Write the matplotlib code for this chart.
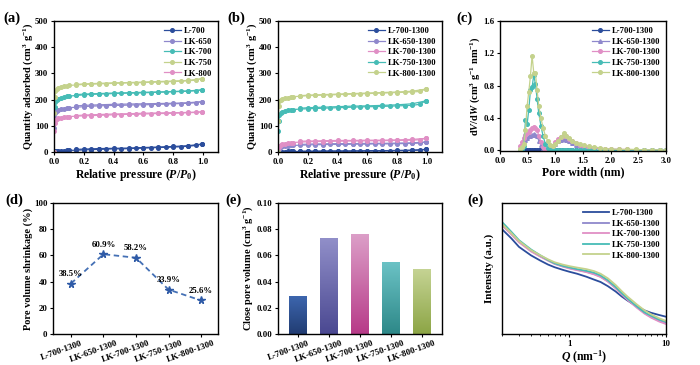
import numpy as np
import matplotlib
matplotlib.use("Agg")
import matplotlib.pyplot as plt
import matplotlib.transforms as mtransforms
from matplotlib.colors import LinearSegmentedColormap

plt.rcParams['font.family'] = ['Liberation Serif', 'DejaVu Serif']
plt.rcParams['font.weight'] = 'bold'
plt.rcParams['axes.labelweight'] = 'bold'
plt.rcParams['axes.linewidth'] = 1.0
plt.rcParams['mathtext.fontset'] = 'custom'
plt.rcParams['mathtext.it'] = 'Liberation Serif:italic:bold'
plt.rcParams['mathtext.rm'] = 'Liberation Serif:bold'
plt.rcParams['mathtext.bf'] = 'Liberation Serif:bold'

# ---------------- data ----------------
# (a) N2 isotherms of precursors
P_ads = [0.0, 0.002, 0.005, 0.01, 0.02, 0.03, 0.05, 0.07, 0.09, 0.1, 0.15, 0.2, 0.25, 0.3,
         0.35, 0.4, 0.45, 0.5, 0.55, 0.6, 0.65, 0.7, 0.75, 0.8, 0.85, 0.9, 0.95, 0.99]
P_des = [0.99, 0.9, 0.8, 0.7, 0.6, 0.5, 0.4, 0.3, 0.25, 0.2, 0.15]

a_labels = ['L-700', 'LK-650', 'LK-700', 'LK-750', 'LK-800']
a_L700_ads = [0, 1, 2, 3, 3, 4, 5, 5, 6, 6, 7, 8, 9, 10, 11, 12, 12, 13, 14, 15, 16, 17, 18, 19, 20, 22, 25, 30]
a_LK650_ads = [0, 90, 130, 150, 157, 160, 164, 166, 168, 169, 171, 173, 175, 176, 177, 178, 178, 179, 180, 180, 181, 182, 183, 184, 185, 186, 188, 192]
a_LK700_ads = [0, 120, 170, 190, 198, 203, 207, 210, 212, 213, 216, 218, 220, 221, 222, 223, 224, 225, 225, 226, 227, 228, 229, 230, 231, 232, 234, 237]
a_LK750_ads = [0, 150, 210, 232, 240, 244, 248, 251, 253, 254, 256, 258, 259, 260, 261, 262, 263, 264, 264, 265, 266, 267, 268, 269, 270, 272, 274, 280]
a_LK800_ads = [0, 80, 110, 122, 126, 128, 131, 133, 134, 135, 137, 138, 139, 140, 141, 142, 143, 144, 144, 145, 146, 147, 147, 148, 149, 150, 151, 153]
a_L700_des = [30, 24, 21, 19, 17, 15, 14, 13, 12, 11, 10]
a_LK650_des = [192, 188, 186, 185, 184, 183, 182, 180, 179, 178, 176]
a_LK700_des = [237, 233, 231, 229, 228, 226, 225, 223, 222, 221, 219]
a_LK750_des = [280, 273, 271, 269, 267, 265, 264, 262, 261, 260, 258]
a_LK800_des = [153, 151, 150, 149, 148, 146, 145, 143, 142, 141, 139]

# (b) isotherms after 1300 treatment
b_labels = ['L-700-1300', 'LK-650-1300', 'LK-700-1300', 'LK-750-1300', 'LK-800-1300']
b_L700_ads = [0, 0.5, 1, 1, 1, 1.5, 1.5, 2, 2, 2, 2, 2.5, 2.5, 3, 3, 3, 3, 3.5, 3.5, 4, 4, 4, 4.5, 5, 5, 6, 7, 10]
b_LK650_ads = [0, 7, 12, 16, 19, 21, 23, 24, 25, 25, 26, 27, 28, 28, 29, 29, 29, 30, 30, 30, 31, 31, 31, 32, 32, 33, 34, 38]
b_LK700_ads = [0, 10, 18, 24, 28, 30, 32, 34, 35, 36, 38, 39, 40, 40, 41, 41, 42, 42, 42, 43, 43, 43, 44, 44, 45, 45, 47, 52]
b_LK750_ads = [0, 80, 120, 140, 148, 152, 156, 159, 161, 162, 164, 165, 166, 167, 168, 169, 170, 171, 172, 173, 173, 174, 175, 176, 177, 178, 182, 195]
b_LK800_ads = [0, 120, 175, 195, 200, 203, 206, 208, 210, 211, 213, 215, 216, 217, 218, 219, 220, 221, 222, 223, 224, 225, 226, 227, 228, 229, 231, 240]
b_L700_des = [10, 7, 6, 5, 5, 4, 4, 3.5, 3, 3, 3]
b_LK650_des = [38, 35, 34, 33, 33, 32, 32, 31, 31, 30, 29]
b_LK700_des = [52, 48, 46, 45, 45, 44, 44, 43, 42, 42, 41]
b_LK750_des = [195, 184, 180, 178, 176, 175, 173, 171, 170, 169, 167]
b_LK800_des = [240, 232, 229, 227, 225, 223, 221, 219, 218, 217, 215]

# (c) pore size distribution
psd_w = [0.37, 0.40, 0.43, 0.46, 0.49, 0.52, 0.55, 0.58, 0.61, 0.64, 0.67, 0.70, 0.74, 0.78, 0.82,
         0.86, 0.90, 0.95, 1.00, 1.05, 1.10, 1.15, 1.20, 1.25, 1.30, 1.37, 1.44, 1.52, 1.60, 1.70,
         1.80, 1.90, 2.00, 2.15, 2.30, 2.45, 2.60, 2.75, 2.90, 3.00]
psd_L700 = [0.0] * 40
psd_LK650 = [0.03, 0.06, 0.10, 0.13, 0.15, 0.17, 0.18, 0.19, 0.20, 0.19, 0.17, 0.12, 0.07, 0.02, 0.0,
             0.0, 0.0, 0.04, 0.08, 0.11, 0.13, 0.14, 0.13, 0.11, 0.09, 0.07, 0.05, 0.04, 0.03, 0.02,
             0.02, 0.01, 0.01, 0.01, 0.0, 0.0, 0.0, 0.0, 0.0, 0.0]
psd_LK700 = [0.05, 0.10, 0.15, 0.19, 0.21, 0.23, 0.25, 0.27, 0.29, 0.28, 0.25, 0.18, 0.10, 0.04, 0.0,
             0.0, 0.0, 0.05, 0.10, 0.14, 0.16, 0.18, 0.17, 0.14, 0.11, 0.09, 0.07, 0.05, 0.04, 0.03,
             0.02, 0.02, 0.01, 0.01, 0.01, 0.005, 0.005, 0.0, 0.0, 0.0]
psd_LK750 = [0.0, 0.02, 0.05, 0.37, 0.32, 0.50, 0.74, 0.78, 0.93, 0.82, 0.64, 0.46, 0.30, 0.17, 0.08,
             0.03, 0.0, 0.0, 0.0, 0.0, 0.0, 0.0, 0.0, 0.0, 0.0, 0.0, 0.0, 0.0, 0.0, 0.0,
             0.0, 0.0, 0.0, 0.0, 0.0, 0.0, 0.0, 0.0, 0.0, 0.0]
psd_LK800 = [0.02, 0.04, 0.08, 0.25, 0.55, 0.72, 0.92, 1.17, 0.96, 0.95, 0.75, 0.55, 0.40, 0.27, 0.18,
             0.12, 0.06, 0.05, 0.08, 0.12, 0.16, 0.21, 0.18, 0.15, 0.12, 0.09, 0.08, 0.06, 0.05, 0.04,
             0.03, 0.02, 0.015, 0.01, 0.01, 0.01, 0.005, 0.005, 0.005, 0.0]

# (d) pore volume shrinkage
samples = ['L-700-1300', 'LK-650-1300', 'LK-700-1300', 'LK-750-1300', 'LK-800-1300']
shrinkage = [38.5, 60.9, 58.2, 33.9, 25.6]

# (e) closed pore volume
close_pore = [0.029, 0.073, 0.076, 0.055, 0.050]

# (e, right) SAXS
q = [0.2, 0.25, 0.3, 0.4, 0.5, 0.6, 0.7, 0.85, 1.0, 1.2, 1.5, 1.8, 2.1, 2.5, 3.0, 3.5, 4.0, 5.0, 6.0, 7.0, 8.5, 10]
I_L700 = [0.80, 0.73, 0.665, 0.60, 0.56, 0.53, 0.51, 0.49, 0.475, 0.46, 0.437, 0.415, 0.397, 0.365, 0.325, 0.285, 0.255, 0.21, 0.18, 0.162, 0.145, 0.132]
I_LK650 = [0.835, 0.765, 0.705, 0.635, 0.593, 0.562, 0.538, 0.517, 0.503, 0.49, 0.475, 0.458, 0.438, 0.402, 0.352, 0.305, 0.265, 0.205, 0.16, 0.13, 0.10, 0.085]
I_LK700 = [0.83, 0.76, 0.70, 0.63, 0.59, 0.56, 0.535, 0.515, 0.50, 0.487, 0.472, 0.455, 0.435, 0.40, 0.35, 0.30, 0.26, 0.20, 0.155, 0.125, 0.095, 0.076]
I_LK750 = [0.855, 0.78, 0.716, 0.645, 0.60, 0.565, 0.54, 0.52, 0.508, 0.495, 0.482, 0.468, 0.447, 0.41, 0.36, 0.31, 0.27, 0.21, 0.165, 0.14, 0.11, 0.094]
I_LK800 = [0.84, 0.77, 0.71, 0.64, 0.60, 0.57, 0.548, 0.53, 0.518, 0.507, 0.495, 0.48, 0.46, 0.425, 0.375, 0.325, 0.285, 0.225, 0.18, 0.15, 0.12, 0.10]

# colours
c_blue = '#2b4d9c'
c_purple = '#8f88cc'
c_teal = '#46bcb6'
c_yg = '#c4d28c'
c_pink = '#e08fc5'

TICK_FS = 6.3
LAB_FS = 8.0
YLAB_FS = 7.5
LEG_FS = 6.2
PAN_FS = 10.5

fig = plt.figure(figsize=(7.0, 3.65), dpi=100)

def style(ax):
    ax.tick_params(direction='out', length=2.5, width=0.8, labelsize=TICK_FS, pad=1.5)
    for lab in ax.get_xticklabels() + ax.get_yticklabels():
        lab.set_fontweight('bold')

def panel(ax, txt, dx, dy=1.02):
    ax.text(dx, dy, txt, transform=ax.transAxes, fontsize=PAN_FS, fontweight='bold',
            ha='left', va='center')

def legend(ax, hl=2.0):
    ax.legend(loc='upper right', frameon=False, fontsize=LEG_FS, handlelength=hl,
              handletextpad=0.3, labelspacing=0.3, borderaxespad=0.3)

def rot_labels(ax):
    off = mtransforms.ScaledTranslation(-7 / 72, 0, fig.dpi_scale_trans)
    for lab in ax.get_xticklabels():
        lab.set_fontsize(6.5)
        lab.set_transform(lab.get_transform() + off)

# ---------- (a) ----------
ax = fig.add_axes([54/700, 1-152/365, 164/700, 131/365])
a_ads = [a_L700_ads, a_LK650_ads, a_LK700_ads, a_LK750_ads, a_LK800_ads]
a_des = [a_L700_des, a_LK650_des, a_LK700_des, a_LK750_des, a_LK800_des]
a_cols = [c_blue, c_purple, c_teal, c_yg, c_pink]
for lab, ya, yd, col in zip(a_labels, a_ads, a_des, a_cols):
    ax.plot(P_ads, ya, '-o', color=col, ms=2.6, lw=0.9, label=lab)
    ax.plot(P_des, yd, '-o', color=col, ms=2.6, lw=0.9)
ax.set_xlim(0, 1.1)
ax.set_ylim(0, 500)
ax.set_xticks([0, 0.2, 0.4, 0.6, 0.8, 1.0])
ax.set_yticks([0, 100, 200, 300, 400, 500])
ax.set_xlabel('Relative pressure ($P$/$P_0$)', fontsize=LAB_FS + 0.5, labelpad=1)
ax.set_ylabel('Quantity adsorbed (cm$^3$ g$^{-1}$)', fontsize=YLAB_FS, labelpad=0)
style(ax)
legend(ax)
panel(ax, '(a)', dx=-0.31)

# ---------- (b) ----------
ax = fig.add_axes([278/700, 1-152/365, 164/700, 131/365])
b_ads = [b_L700_ads, b_LK650_ads, b_LK700_ads, b_LK750_ads, b_LK800_ads]
b_des = [b_L700_des, b_LK650_des, b_LK700_des, b_LK750_des, b_LK800_des]
b_cols = [c_blue, c_purple, c_pink, c_teal, c_yg]
for lab, ya, yd, col in zip(b_labels, b_ads, b_des, b_cols):
    ax.plot(P_ads, ya, '-o', color=col, ms=2.6, lw=0.9, label=lab)
    ax.plot(P_des, yd, '-o', color=col, ms=2.6, lw=0.9)
ax.set_xlim(0, 1.1)
ax.set_ylim(0, 500)
ax.set_xticks([0, 0.2, 0.4, 0.6, 0.8, 1.0])
ax.set_yticks([0, 100, 200, 300, 400, 500])
ax.set_xlabel('Relative pressure ($P$/$P_0$)', fontsize=LAB_FS + 0.5, labelpad=1)
ax.set_ylabel('Quantity adsorbed (cm$^3$ g$^{-1}$)', fontsize=YLAB_FS, labelpad=0)
style(ax)
legend(ax)
panel(ax, '(b)', dx=-0.31)

# ---------- (c) ----------
ax = fig.add_axes([500/700, 1-151/365, 166/700, 130/365])
psd = [psd_L700, psd_LK650, psd_LK700, psd_LK750, psd_LK800]
c_marks = ['o', '^', 'o', 'o', 'o']
for lab, yv, col, mk in zip(b_labels, psd, b_cols, c_marks):
    ax.plot(psd_w, yv, '-', marker=mk, color=col, ms=2.6, lw=0.9, label=lab)
ax.set_xlim(0, 3.0)
ax.set_ylim(-0.01, 1.6)
ax.set_xticks([0, 0.5, 1.0, 1.5, 2.0, 2.5, 3.0])
ax.set_yticks([0, 0.4, 0.8, 1.2, 1.6])
ax.set_xlabel('Pore width (nm)', fontsize=LAB_FS + 0.5, labelpad=1)
ax.set_ylabel('d$V$/d$W$ (cm$^3$ g$^{-1}$ nm$^{-1}$)', fontsize=YLAB_FS, labelpad=1)
style(ax)
legend(ax)
panel(ax, '(c)', dx=-0.26)

# ---------- (d) ----------
ax = fig.add_axes([53/700, 1-334/365, 165/700, 131/365])
xs = np.arange(len(samples))
ax.plot(xs, shrinkage, '--', color='#4470b5', lw=1.3, dashes=(3, 2))
ax.plot(xs, shrinkage, '*', color='#2f5ba7', ms=5.5)
for x, v in zip(xs, shrinkage):
    ax.annotate(f'{v}%', (x, v), xytext=(0, 4), textcoords='offset points',
                ha='center', va='bottom', fontsize=6.3, fontweight='bold')
ax.set_xlim(-0.55, 4.52)
ax.set_ylim(0, 100)
ax.set_yticks([0, 20, 40, 60, 80, 100])
ax.set_xticks(xs)
ax.set_xticklabels(samples, rotation=20, ha='center')
ax.set_ylabel('Pore volume shrinkage (%)', fontsize=YLAB_FS, labelpad=1)
style(ax)
rot_labels(ax)
panel(ax, '(d)', dx=-0.29)

# ---------- (e) bars ----------
ax = fig.add_axes([278/700, 1-334/365, 164/700, 131/365])
bar_top = ['#3d66ae', '#918fc9', '#dc9fc8', '#6cc3c6', '#c6d495']
bar_bot = ['#213c72', '#4a4891', '#b73a88', '#2d8888', '#8ca545']
bars = ax.bar(xs, close_pore, width=0.56, color='none', edgecolor='none')
for b, ct, cb in zip(bars, bar_top, bar_bot):
    cmap = LinearSegmentedColormap.from_list('g', [cb, ct])
    x0 = b.get_x(); w = b.get_width(); h = b.get_height()
    grad = np.linspace(0, 1, 256).reshape(-1, 1)
    im = ax.imshow(grad, cmap=cmap, origin='lower', aspect='auto',
                   extent=[x0, x0 + w, 0, h], zorder=2)
    im.set_clip_path(b)
ax.set_xlim(-0.65, 4.65)
ax.set_ylim(0, 0.10)
ax.set_yticks([0, 0.02, 0.04, 0.06, 0.08, 0.10])
ax.set_yticklabels(['0.00', '0.02', '0.04', '0.06', '0.08', '0.10'])
ax.set_xticks(xs)
ax.set_xticklabels(samples, rotation=20, ha='center')
ax.set_ylabel('Close pore volume (cm$^3$ g$^{-1}$)', fontsize=YLAB_FS, labelpad=1)
style(ax)
rot_labels(ax)
panel(ax, '(e)', dx=-0.32)

# ---------- (e) SAXS ----------
ax = fig.add_axes([502/700, 1-334/365, 164/700, 131/365])
saxs = [I_L700, I_LK650, I_LK700, I_LK750, I_LK800]
for lab, yv, col in zip(b_labels, saxs, b_cols):
    ax.plot(q, yv, '-', color=col, lw=1.3, label=lab)
ax.set_xscale('log')
ax.set_xlim(0.2, 10)
ax.set_ylim(0, 1)
ax.set_yticks([])
ax.set_xticks([1, 10])
ax.set_xticklabels(['1', '10'])
ax.set_xlabel('$Q$ (nm$^{-1}$)', fontsize=LAB_FS + 0.5, labelpad=1)
ax.set_ylabel('Intensity (a.u.)', fontsize=LAB_FS, labelpad=6)
style(ax)
ax.tick_params(which='minor', direction='out', length=1.5, width=0.6)
legend(ax, hl=3.0)
panel(ax, '(e)', dx=-0.21)

fig.savefig('out.png', dpi=100)
